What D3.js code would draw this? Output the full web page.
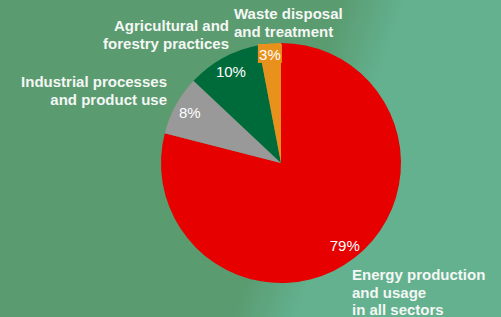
<!DOCTYPE html>
<html>
<head>
<meta charset="utf-8">
<script src="https://cdn.jsdelivr.net/npm/d3@7"></script>
<style>
  html, body { margin: 0; padding: 0; }
  body { width: 501px; height: 317px; overflow: hidden; }
</style>
</head>
<body>
<div id="wrapper"></div>
<script>
const categories = ["Energy production and usage in all sectors", "Industrial processes and product use", "Agricultural and forestry practices", "Waste disposal and treatment"];
const shares = [79, 8, 10, 3];
const colors = ["#e60000", "#999999", "#006b3a", "#e8911c"];
const labelLines = [
    ["Energy production", "and usage", "in all sectors"],
    ["Industrial processes", "and product use"],
    ["Agricultural and", "forestry practices"],
    ["Waste disposal", "and treatment"]
];

function buildChart() {
    const dimension = { width: 501, height: 317, cx: 281, cy: 163, radius: 120 };

    const svg = d3.select("#wrapper").append("svg")
        .attr("width", dimension.width)
        .attr("height", dimension.height)
        .style("display", "block");

    // background fade, darker green on the left
    const grad = svg.append("defs").append("linearGradient")
        .attr("id", "bg")
        .attr("gradientUnits", "userSpaceOnUse")
        .attr("x1", 290).attr("y1", 148)
        .attr("x2", 348).attr("y2", 168);
    grad.append("stop").attr("offset", 0).attr("stop-color", "#5a9b70");
    grad.append("stop").attr("offset", 1).attr("stop-color", "#63b18f");

    svg.append("rect")
        .attr("width", dimension.width)
        .attr("height", dimension.height)
        .attr("fill", "url(#bg)");

    const pie = d3.pie().sort(null).value(d => d)(shares);
    const arc = d3.arc().innerRadius(0).outerRadius(dimension.radius);
    const labelArc = d3.arc().innerRadius(104).outerRadius(104);

    const bounded = svg.append("g")
        .attr("transform", `translate(${dimension.cx}, ${dimension.cy})`);

    bounded.selectAll("path")
        .data(pie)
        .join("path")
        .attr("d", arc)
        .attr("fill", (d, i) => colors[i]);

    // percentage labels
    const pct = bounded.selectAll("g.pct")
        .data(pie)
        .join("g")
        .attr("class", "pct")
        .attr("transform", (d, i) => {
            const c = labelArc.centroid(d);
            if (i === 3) { c[0] -= 1.3; c[1] -= 5; }
            return `translate(${c[0]}, ${c[1]})`;
        });

    // small slice gets a box behind its label
    pct.filter((d, i) => i === 3)
        .append("rect")
        .attr("x", -12).attr("y", -10.5)
        .attr("width", 24).attr("height", 19)
        .attr("fill", colors[3]);

    pct.append("text")
        .attr("text-anchor", "middle")
        .attr("dy", "0.36em")
        .attr("fill", "#ffffff")
        .style("font-family", "'Liberation Sans', Arial, sans-serif")
        .style("font-size", "15px")
        .text((d, i) => shares[i] + "%");

    // category labels
    const labelPos = [
        { x: 352, y: 280, anchor: "start" },
        { x: 167, y: 87, anchor: "end" },
        { x: 229, y: 31, anchor: "end" },
        { x: 234, y: 19, anchor: "start" }
    ];

    labelLines.forEach((lines, i) => {
        const t = svg.append("text")
            .attr("x", labelPos[i].x)
            .attr("y", labelPos[i].y)
            .attr("text-anchor", labelPos[i].anchor)
            .attr("fill", "#f4f7f4")
            .style("font-family", "'Liberation Sans', Arial, sans-serif")
            .style("font-size", "15px")
            .style("font-weight", "bold");
        lines.forEach((line, j) => {
            t.append("tspan")
                .attr("x", labelPos[i].x)
                .attr("dy", j === 0 ? 0 : 17.7)
                .text(line);
        });
    });
}

buildChart();
</script>
</body>
</html>
